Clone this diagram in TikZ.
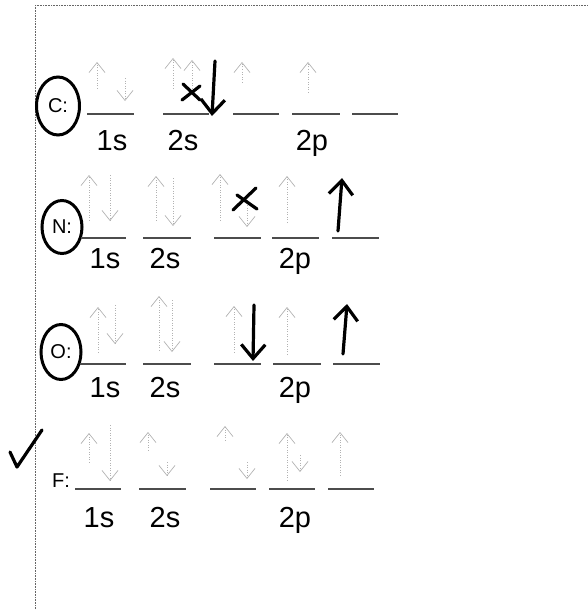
\documentclass[tikz,border=0pt]{standalone}
\usepackage{fontspec}
\setmainfont{Liberation Sans}
\usetikzlibrary{shapes.geometric, arrows.meta}

\begin{document}
\begin{tikzpicture}[
    x=1pt, y=-1pt,
    frame/.style={draw=black!60, line width=0.6pt, densely dotted},
    orb/.style={draw=black!70, line width=1.1pt},
    lbl/.style={font=\fontsize{29}{31}\selectfont, anchor=base},
    atom/.style={font=\fontsize{20}{22}\selectfont, inner sep=0pt},
    circled/.style={ellipse, draw, line width=3pt},
    faint/.style={draw=gray!60, line width=0.5pt, dotted, -{Straight Barb[length=10pt, width=16pt, line width=0.7pt]}},
    ink/.style={draw=black, line width=3.2pt, line cap=round, line join=round},
    inkarrow/.style={ink, -{Straight Barb[length=14pt, width=24pt]}}
]
\useasboundingbox (0,0) rectangle (588,610);

% Page frame
\draw[frame] (35,5) -- (588,5);
\draw[frame] (35,5) -- (35,610);

% Carbon
\node[atom, circled, minimum width=43pt, minimum height=58pt] (atomC) at (58,106) {C:};
\draw[orb] (87,114) -- (134,114);
\draw[orb] (163,114) -- (209,114);
\draw[orb] (233,114) -- (279,114);
\draw[orb] (292,114) -- (340,114);
\draw[orb] (352,114) -- (398,114);
\node[lbl] (c1s) at (112,150) {1s};
\node[lbl] (c2s) at (183,150) {2s};
\node[lbl] (c2p) at (312,150) {2p};

\draw[faint] (97,88) -- (97,62);
\draw[faint] (125,78) -- (125,101);
\draw[faint] (173,88) -- (173,58);
\draw[faint] (192,88) -- (192,60);
\draw[faint] (242,82) -- (242,62);
\draw[faint] (308,92) -- (308,62);

\draw[ink] (183,84) -- (200,100);
\draw[ink] (182,100) -- (200,86);
\draw[inkarrow] (215,61) -- (212,116);

% Nitrogen
\node[atom, circled, minimum width=40pt, minimum height=53pt] (atomN) at (62,227) {N:};
\draw[orb] (81,238) -- (126,238);
\draw[orb] (143,238) -- (191,238);
\draw[orb] (214,238) -- (261,238);
\draw[orb] (272,238) -- (319,238);
\draw[orb] (332,238) -- (379,238);
\node[lbl] (n1s) at (105,268) {1s};
\node[lbl] (n2s) at (165,268) {2s};
\node[lbl] (n2p) at (295,268) {2p};

\draw[faint] (89,220) -- (89,175);
\draw[faint] (110,175) -- (110,221);
\draw[faint] (156,220) -- (156,176);
\draw[faint] (173,178) -- (173,226);
\draw[faint] (220,220) -- (220,174);
\draw[faint] (247,200) -- (247,227);
\draw[faint] (287,222) -- (287,176);

\draw[ink] (237,195) -- (257,209);
\draw[ink] (233,210) -- (256,188);
\draw[inkarrow] (338,231) -- (342,178);

% Oxygen
\node[atom, circled, minimum width=40pt, minimum height=55pt] (atomO) at (61,352) {O:};
\draw[orb] (80,364) -- (126,364);
\draw[orb] (143,364) -- (191,364);
\draw[orb] (214,364) -- (261,364);
\draw[orb] (273,364) -- (321,364);
\draw[orb] (333,364) -- (380,364);
\node[lbl] (o1s) at (105,397) {1s};
\node[lbl] (o2s) at (165,397) {2s};
\node[lbl] (o2p) at (295,397) {2p};

\draw[faint] (98,352) -- (98,307);
\draw[faint] (115,305) -- (115,344);
\draw[faint] (159,350) -- (159,296);
\draw[faint] (172,300) -- (172,352);
\draw[faint] (234,352) -- (234,306);
\draw[faint] (287,354) -- (287,307);

\draw[inkarrow] (254,305) -- (253,361);
\draw[inkarrow] (343,354) -- (347,304);

% Fluorine
\node[atom] (atomF) at (61,481) {F:};
\draw[orb] (75,489) -- (121,489);
\draw[orb] (139,489) -- (186,489);
\draw[orb] (210,489) -- (256,489);
\draw[orb] (269,489) -- (315,489);
\draw[orb] (328,489) -- (374,489);
\node[lbl] (f1s) at (99,527) {1s};
\node[lbl] (f2s) at (165,527) {2s};
\node[lbl] (f2p) at (295,527) {2p};

\draw[faint] (89,462) -- (89,433);
\draw[faint] (110,425) -- (110,481);
\draw[faint] (148,450) -- (148,432);
\draw[faint] (167,462) -- (167,476);
\draw[faint] (225,440) -- (225,426);
\draw[faint] (247,462) -- (247,479);
\draw[faint] (287,480) -- (287,433);
\draw[faint] (300,455) -- (300,472);
\draw[faint] (340,475) -- (340,432);

% Check mark
\draw[ink] (10,452) -- (17,467) -- (42,430);

\end{tikzpicture}
\end{document}
